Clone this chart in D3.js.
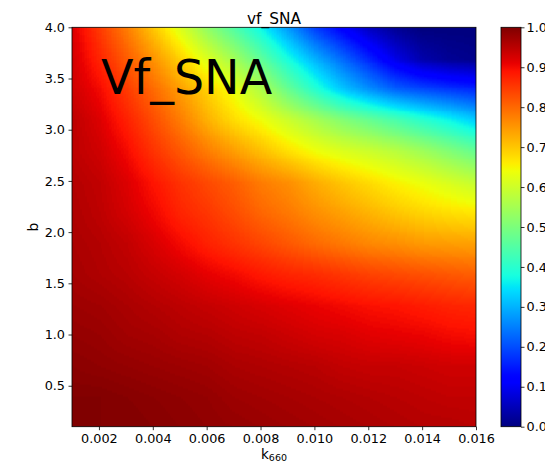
<!DOCTYPE html>
<html>
<head>
<meta charset="utf-8">
<script src="https://cdn.jsdelivr.net/npm/d3@7"></script>
<style>
  html, body { margin: 0; padding: 0; background: #fff; }
  svg { display: block; }
  text { font-family: "DejaVu Sans", sans-serif; fill: #000; }
</style>
</head>
<body>
<div id="chart"></div>
<script>
// ---- data ----
const kValues = [0.001, 0.002, 0.003, 0.004, 0.005, 0.006, 0.007, 0.008,
                 0.009, 0.010, 0.011, 0.012, 0.013, 0.014, 0.015, 0.016];
const bValues = [4.0, 3.7, 3.4, 3.1, 2.8, 2.5, 2.2, 1.9, 1.6, 1.3, 1.0, 0.7, 0.4, 0.1];

const vf_b40 = [0.92, 0.85, 0.78, 0.70, 0.62, 0.53, 0.45, 0.37, 0.28, 0.19, 0.12, 0.06, 0.02, 0.00, 0.00, 0.00];
const vf_b37 = [0.93, 0.875, 0.815, 0.755, 0.69, 0.62, 0.55, 0.465, 0.38, 0.30, 0.23, 0.16, 0.09, 0.04, 0.02, 0.01];
const vf_b34 = [0.935, 0.90, 0.85, 0.80, 0.745, 0.69, 0.635, 0.565, 0.48, 0.40, 0.325, 0.27, 0.225, 0.20, 0.18, 0.165];
const vf_b31 = [0.95, 0.92, 0.88, 0.83, 0.78, 0.725, 0.68, 0.645, 0.60, 0.555, 0.515, 0.48, 0.445, 0.405, 0.37, 0.33];
const vf_b28 = [0.95, 0.935, 0.90, 0.86, 0.82, 0.78, 0.745, 0.71, 0.675, 0.645, 0.62, 0.60, 0.575, 0.545, 0.51, 0.475];
const vf_b25 = [0.955, 0.945, 0.92, 0.89, 0.86, 0.835, 0.81, 0.78, 0.76, 0.73, 0.70, 0.68, 0.655, 0.635, 0.61, 0.59];
const vf_b22 = [0.96, 0.95, 0.93, 0.905, 0.875, 0.855, 0.83, 0.805, 0.785, 0.76, 0.74, 0.72, 0.70, 0.685, 0.675, 0.665];
const vf_b19 = [0.965, 0.957, 0.945, 0.925, 0.90, 0.88, 0.86, 0.84, 0.82, 0.80, 0.785, 0.77, 0.76, 0.75, 0.745, 0.74];
const vf_b16 = [0.968, 0.962, 0.953, 0.943, 0.93, 0.915, 0.90, 0.888, 0.876, 0.865, 0.855, 0.845, 0.835, 0.826, 0.818, 0.81];
const vf_b13 = [0.976, 0.971, 0.965, 0.958, 0.95, 0.942, 0.933, 0.925, 0.917, 0.91, 0.903, 0.895, 0.89, 0.883, 0.876, 0.87];
const vf_b10 = [0.984, 0.979, 0.974, 0.968, 0.962, 0.956, 0.95, 0.944, 0.937, 0.931, 0.925, 0.919, 0.913, 0.908, 0.903, 0.898];
const vf_b07 = [0.992, 0.99, 0.986, 0.981, 0.976, 0.971, 0.966, 0.961, 0.956, 0.951, 0.947, 0.943, 0.94, 0.937, 0.935, 0.932];
const vf_b04 = [1.0, 1.0, 0.997, 0.993, 0.988, 0.983, 0.978, 0.973, 0.968, 0.964, 0.96, 0.956, 0.953, 0.95, 0.947, 0.945];
const vf_b01 = [1.0, 1.0, 1.0, 0.998, 0.994, 0.99, 0.985, 0.98, 0.976, 0.972, 0.968, 0.964, 0.961, 0.958, 0.955, 0.952];

const vfRows = [vf_b40, vf_b37, vf_b34, vf_b31, vf_b28, vf_b25, vf_b22,
                vf_b19, vf_b16, vf_b13, vf_b10, vf_b07, vf_b04, vf_b01];

const xTicks = [0.002, 0.004, 0.006, 0.008, 0.010, 0.012, 0.014, 0.016];
const yTicks = [0.5, 1.0, 1.5, 2.0, 2.5, 3.0, 3.5, 4.0];
const cbTicks = [0.0, 0.1, 0.2, 0.3, 0.4, 0.5, 0.6, 0.7, 0.8, 0.9, 1.0];

// ---- jet colormap (matplotlib segment data) ----
function seg(pts, t) {
  for (let i = 1; i < pts.length; i++) {
    if (t <= pts[i][0]) {
      const [x0, y0] = pts[i - 1], [x1, y1] = pts[i];
      return y0 + (y1 - y0) * (t - x0) / (x1 - x0);
    }
  }
  return pts[pts.length - 1][1];
}
const jetR = [[0, 0], [0.35, 0], [0.66, 1], [0.89, 1], [1, 0.5]];
const jetG = [[0, 0], [0.125, 0], [0.375, 1], [0.64, 1], [0.91, 0], [1, 0]];
const jetB = [[0, 0.5], [0.11, 1], [0.34, 1], [0.65, 0], [1, 0]];
function jet(t) {
  t = Math.max(0, Math.min(1, t));
  return d3.rgb(255 * seg(jetR, t), 255 * seg(jetG, t), 255 * seg(jetB, t));
}
const color = d3.scaleSequential(jet).domain([0, 1]).clamp(true);

// ---- layout ----
const W = 545, H = 464;
const plot = { left: 72, right: 476, top: 27.3, bottom: 426.7 };
const cb = { left: 501, right: 521 };

const x = d3.scaleLinear().domain([0.001, 0.016]).range([plot.left, plot.right]);
const y = d3.scaleLinear().domain([0.1, 4.0]).range([plot.bottom, plot.top]);
const yc = d3.scaleLinear().domain([0, 1]).range([plot.bottom, plot.top]);

const svg = d3.select("#chart").append("svg")
  .attr("width", W).attr("height", H)
  .attr("viewBox", `0 0 ${W} ${H}`);
svg.append("rect").attr("width", W).attr("height", H).attr("fill", "#fff");

// ---- heat map: grid drawn through scales, smoothed by the browser ----
const nK = kValues.length, nB = bValues.length;
const small = document.createElement("canvas");
small.width = nK; small.height = nB;
const sctx = small.getContext("2d");
const simg = sctx.createImageData(nK, nB);
vfRows.forEach((row, j) => row.forEach((v, i) => {
  const g = Math.round(Math.max(0, Math.min(1, v)) * 255);
  const o = (j * nK + i) * 4;
  simg.data[o] = g; simg.data[o + 1] = g; simg.data[o + 2] = g; simg.data[o + 3] = 255;
}));
sctx.putImageData(simg, 0, 0);

const pw = Math.round(plot.right - plot.left), ph = Math.round(plot.bottom - plot.top);
const big = document.createElement("canvas");
big.width = pw; big.height = ph;
const bctx = big.getContext("2d");
bctx.imageSmoothingEnabled = true;
bctx.imageSmoothingQuality = "low";
const dk = kValues[1] - kValues[0];
const db = bValues[0] - bValues[1];
const sx0 = x(kValues[0] - dk / 2) - plot.left;
const sx1 = x(kValues[nK - 1] + dk / 2) - plot.left;
const sy0 = y(bValues[0] + db / 2) - plot.top;
const sy1 = y(bValues[nB - 1] - db / 2) - plot.top;
bctx.drawImage(small, sx0, sy0, sx1 - sx0, sy1 - sy0);
const bimg = bctx.getImageData(0, 0, pw, ph);
for (let p = 0; p < bimg.data.length; p += 4) {
  const c = color(bimg.data[p] / 255);
  bimg.data[p] = c.r; bimg.data[p + 1] = c.g; bimg.data[p + 2] = c.b; bimg.data[p + 3] = 255;
}
bctx.putImageData(bimg, 0, 0);

svg.append("image")
  .attr("x", plot.left).attr("y", plot.top)
  .attr("width", plot.right - plot.left).attr("height", plot.bottom - plot.top)
  .attr("preserveAspectRatio", "none")
  .attr("href", big.toDataURL());

// frame
svg.append("rect")
  .attr("x", plot.left).attr("y", plot.top)
  .attr("width", plot.right - plot.left).attr("height", plot.bottom - plot.top)
  .attr("fill", "none").attr("stroke", "#000").attr("stroke-width", 0.8);

// ---- axes ----
const tickLen = 3.5, tickPad = 3.5, fs = 12.8;
const xAxis = d3.axisBottom(x).tickValues(xTicks).tickFormat(d3.format(".3f"))
  .tickSizeInner(tickLen).tickSizeOuter(0).tickPadding(tickPad);
const gx = svg.append("g").attr("transform", `translate(0,${plot.bottom})`).call(xAxis);
const yAxis = d3.axisLeft(y).tickValues(yTicks).tickFormat(d3.format(".1f"))
  .tickSizeInner(tickLen).tickSizeOuter(0).tickPadding(tickPad);
const gy = svg.append("g").attr("transform", `translate(${plot.left},0)`).call(yAxis);
[gx, gy].forEach(g => {
  g.select(".domain").remove();
  g.selectAll("line").attr("stroke", "#000").attr("stroke-width", 0.8);
  g.selectAll("text").attr("font-family", "DejaVu Sans").attr("font-size", fs).attr("fill", "#000");
});

// axis labels
const xl = svg.append("text").attr("x", 274).attr("y", 458.5)
  .attr("text-anchor", "middle").attr("font-size", 13.5);
xl.append("tspan").text("k");
xl.append("tspan").attr("font-size", 9.5).attr("dy", 2.5).text("660");

svg.append("text")
  .attr("transform", `translate(38,${(plot.top + plot.bottom) / 2}) rotate(-90)`)
  .attr("text-anchor", "middle").attr("font-size", 14).text("b");

// title
svg.append("text").attr("x", (plot.left + plot.right) / 2).attr("y", 23.5)
  .attr("text-anchor", "middle").attr("font-size", 15.4).text("vf_SNA");

// big annotation
svg.append("text").attr("x", 101).attr("y", 94)
  .attr("font-family", "'Liberation Sans', Arial, sans-serif")
  .attr("font-size", 47.5).text("Vf_SNA");

// ---- colorbar ----
const defs = svg.append("defs");
const grad = defs.append("linearGradient").attr("id", "jetgrad")
  .attr("x1", 0).attr("y1", 1).attr("x2", 0).attr("y2", 0);
d3.range(0, 1.0001, 0.01).forEach(t => {
  grad.append("stop").attr("offset", t).attr("stop-color", color(t).formatHex());
});
svg.append("rect")
  .attr("x", cb.left).attr("y", yc(1))
  .attr("width", cb.right - cb.left).attr("height", yc(0) - yc(1))
  .attr("fill", "url(#jetgrad)").attr("stroke", "#000").attr("stroke-width", 0.8);
const cAxis = d3.axisRight(yc).tickValues(cbTicks).tickFormat(d3.format(".1f"))
  .tickSizeInner(tickLen).tickSizeOuter(0).tickPadding(2);
const gc = svg.append("g").attr("transform", `translate(${cb.right},0)`).call(cAxis);
gc.select(".domain").remove();
gc.selectAll("line").attr("stroke", "#000").attr("stroke-width", 0.8);
gc.selectAll("text").attr("font-family", "DejaVu Sans").attr("font-size", fs).attr("fill", "#000");
</script>
</body>
</html>
